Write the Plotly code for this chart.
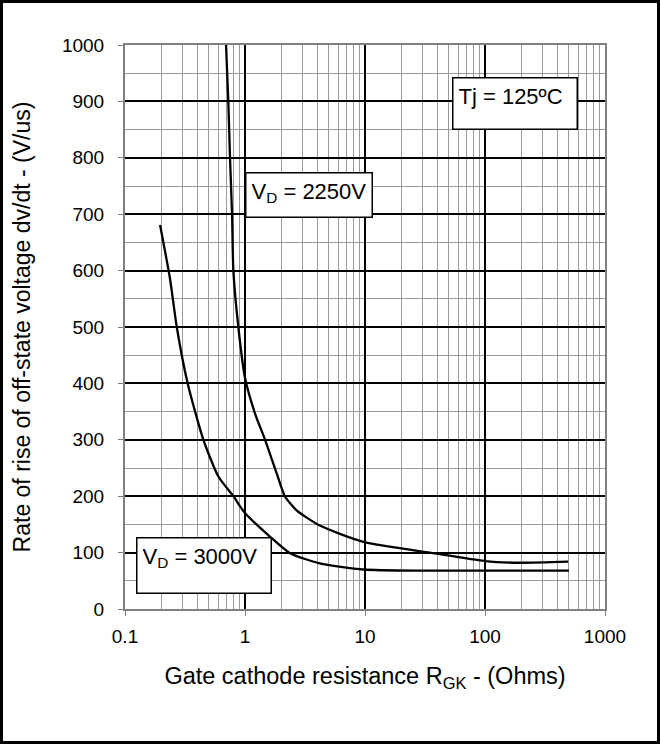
import plotly.graph_objects as go

# Data
r_2250 = [0.695, 0.726, 0.75, 0.78, 0.80, 0.88, 1.0, 1.21, 1.47, 1.84, 2.15, 2.69, 4.2, 9.7, 37, 100, 196, 494]
dv_2250 = [1000, 900, 800, 700, 600, 500, 410, 347, 300, 240, 200, 175, 148, 119, 99, 85, 82, 84]

r_3000 = [0.196, 0.237, 0.27, 0.333, 0.45, 0.6, 0.8, 1.0, 1.62, 2.37, 4.2, 9.7, 30, 100, 500]
dv_3000 = [681, 586, 500, 400, 300, 235, 200, 170, 128, 99, 81, 70, 68, 68, 68]

x_ticks = [0.1, 1, 10, 100, 1000]
x_tick_labels = ["0.1", "1", "10", "100", "1000"]
y_ticks = list(range(0, 1001, 100))

W, H = 660, 744
L, R, T, B = 125, 55, 45, 135

fig = go.Figure()
for xs, ys in [(r_2250, dv_2250), (r_3000, dv_3000)]:
    fig.add_trace(go.Scatter(x=xs, y=ys, mode="lines",
                             line=dict(color="black", width=2.3, shape="spline", smoothing=0.6),
                             showlegend=False, hoverinfo="skip"))

font = dict(family="Liberation Sans, Arial, sans-serif", size=19, color="black")

fig.update_layout(
    width=W, height=H,
    margin=dict(l=L, r=R, t=T, b=B),
    paper_bgcolor="white", plot_bgcolor="white",
    font=font,
    xaxis=dict(type="log", range=[-1, 3], tickvals=x_ticks, ticktext=x_tick_labels,
               showgrid=True, gridcolor="black", gridwidth=2,
               minor=dict(showgrid=True, gridcolor="#9a9a9a", gridwidth=1, dtick="D1",
                          ticks=""),
               showline=True, linecolor="#808080", linewidth=2, mirror=True,
               ticks="outside", ticklen=5, tickcolor="#808080",
               ticklabelstandoff=4,
               zeroline=False,
               title=dict(text="Gate cathode resistance R<sub>GK</sub> - (Ohms)",
                          font=dict(size=23.5), standoff=22)),
    yaxis=dict(range=[0, 1000], tickvals=y_ticks,
               showgrid=True, gridcolor="black", gridwidth=2,
               minor=dict(showgrid=True, gridcolor="#9a9a9a", gridwidth=1, dtick=50, ticks=""),
               showline=True, linecolor="#808080", linewidth=2, mirror=True,
               ticks="outside", ticklen=5, tickcolor="#808080",
               ticklabelstandoff=10,
               zeroline=False,
               title=dict(text="Rate of rise of off-state voltage dv/dt - (V/us)",
                          font=dict(size=23), standoff=25)),
)

pw = W - L - R
ph = H - T - B
def px2paper_x(px):
    return (px - L) / pw
def px2paper_y(py):
    return (H - B - py) / ph

# outer frame
fig.add_shape(type="rect", xref="paper", yref="paper",
              x0=px2paper_x(1.5), x1=px2paper_x(W - 1.5),
              y0=px2paper_y(H - 1.5), y1=px2paper_y(1.5),
              line=dict(color="black", width=3), fillcolor="rgba(0,0,0,0)")

PAD = 5
def box(text, x_log, y, w, h):
    fig.add_annotation(x=x_log, y=y, xref="x", yref="y", text=text,
                       showarrow=False, align="left", valign="top",
                       width=w - 2 * PAD - 3, height=h - 2 * PAD - 3, bgcolor="white",
                       bordercolor="black", borderwidth=1.5, borderpad=PAD,
                       font=dict(size=22), xanchor="center", yanchor="middle")

box("V<sub>D</sub> = 2250V", 0.533, 734, 128, 46)
box("V<sub>D</sub> = 3000V", -0.342, 77, 136, 57)
box("Tj = 125ºC", 2.25, 896, 126, 53)

fig.write_html("out.html")
